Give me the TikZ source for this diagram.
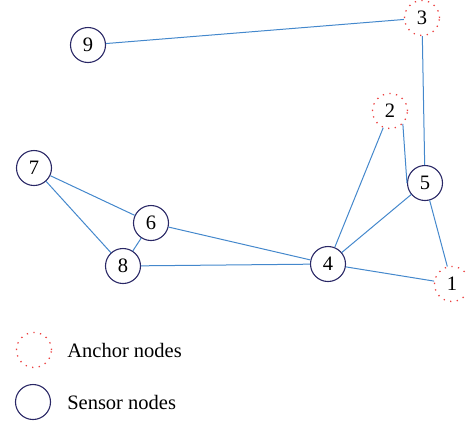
\documentclass[tikz,border=0pt]{standalone}
\usepackage{fontspec}
\setmainfont{Liberation Serif}
\usetikzlibrary{positioning}
\definecolor{edgeblue}{RGB}{68,136,204}
\definecolor{sensorblue}{RGB}{42,40,102}
\definecolor{anchorred}{RGB}{236,64,64}
\tikzset{
  sensor/.style={circle, draw=sensorblue, line width=1.1pt, minimum size=35pt,
    inner sep=0pt, font=\fontsize{20.5}{22}\selectfont},
  anchornode/.style={circle, draw=anchorred, line width=1.3pt,
    dash pattern=on 1.3pt off 5.4pt, minimum size=35pt, inner sep=0pt,
    font=\fontsize{20.5}{22}\selectfont},
  legendtext/.style={inner sep=0pt, font=\fontsize{20.5}{22}\selectfont},
}
\begin{document}
\begin{tikzpicture}[x=1pt, y=-1pt]
      \useasboundingbox (0,0) rectangle (466,421);
      \draw
        (452,284) node[anchornode] (1){1}
        (390,111) node[anchornode] (2){2}
        (422,18) node[anchornode] (3){3}
        (328,264) node[sensor] (4){4}
        (425,183) node[sensor] (5){5}
        (151,223) node[sensor] (6){6}
        (34,168) node[sensor] (7){7}
        (123,266) node[sensor] (8){8}
        (88,45) node[sensor] (9){9};
      \begin{scope}[-, draw=edgeblue, line width=1pt]
        \draw (9) to (3);
        \draw (3) to (5);
        \draw (2.south east) to (5.west);
        \draw (2) to (4);
        \draw (5) to (4);
        \draw (5) to (1);
        \draw (4) to (1);
        \draw (4) to (6);
        \draw (4) to (8);
        \draw (7) to (6);
        \draw (7) to (8);
        \draw (6) to (8);
      \end{scope}
      % legend
      \node[anchornode] (a) at (34,350) {};
      \node[legendtext, right=15pt of a] (at) {Anchor nodes};
      \node[sensor] (s) at (33,402) {};
      \node[legendtext, right=16pt of s] (st) {Sensor nodes};
    \end{tikzpicture}
\end{document}
